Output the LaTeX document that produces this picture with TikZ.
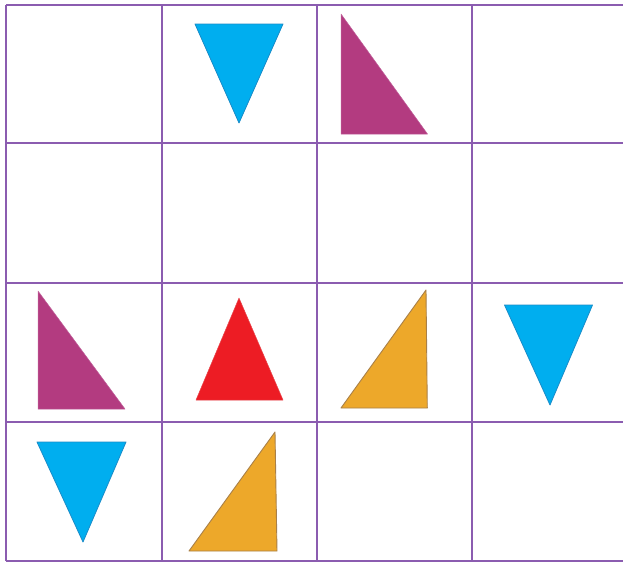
\documentclass[tikz,border=0pt]{standalone}
\begin{document}
\begin{tikzpicture}[x=1pt,y=-1pt,
  gridline/.style={draw=gridc,line width=1.3pt},
  bluetri/.style={fill=bluef,draw=bluee,line width=0.8pt,line join=round},
  magtri/.style={fill=magf,draw=mage,line width=0.5pt,line join=round},
  redtri/.style={fill=redf,draw=rede,line width=0.5pt,line join=round},
  orgtri/.style={fill=orgf,draw=orge,line width=0.9pt,line join=round}]
\definecolor{gridc}{HTML}{8B5CB0}
\definecolor{bluef}{HTML}{00AEEF}
\definecolor{bluee}{HTML}{1A8CC8}
\definecolor{magf}{HTML}{B33B80}
\definecolor{mage}{HTML}{C0609A}
\definecolor{redf}{HTML}{ED1C24}
\definecolor{rede}{HTML}{E8464C}
\definecolor{orgf}{HTML}{EDA82A}
\definecolor{orge}{HTML}{A98048}
\useasboundingbox (0,0) rectangle (623,563);
\fill[white] (0,0) rectangle (623,563);
% grid
\foreach \y in {5,143,283,422,561} \draw[gridline] (6,\y) -- (623,\y);
\foreach \x in {6,162,317,472} \draw[gridline] (\x,5) -- (\x,561);
% row 1
\draw[bluetri] (195,24) -- (283,24) -- (239,123) -- cycle;
\draw[magtri] (341,14) -- (341,134) -- (427.5,134) -- cycle;
% row 3
\draw[magtri] (38,291) -- (38,409) -- (125,409) -- cycle;
\draw[redtri] (239,298) -- (283,400) -- (196,400) -- cycle;
\draw[orgtri] (426,290) -- (427.3,408) -- (341,408) -- cycle;
\draw[bluetri] (504.5,305) -- (592.5,305) -- (550,405) -- cycle;
% row 4
\draw[bluetri] (37,442) -- (126,442) -- (83,542) -- cycle;
\draw[orgtri] (275,432) -- (277,551) -- (189,551) -- cycle;
\end{tikzpicture}
\end{document}
